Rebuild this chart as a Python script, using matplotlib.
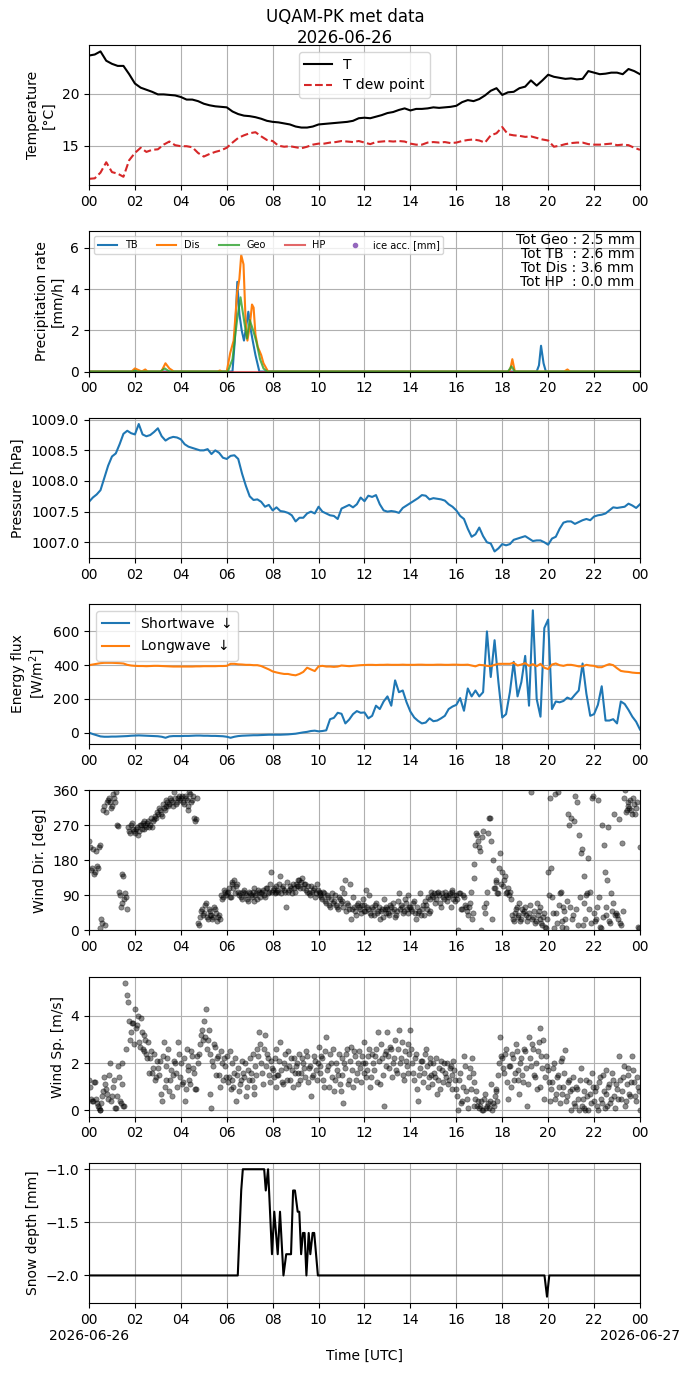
import matplotlib
matplotlib.use('Agg')
import matplotlib.pyplot as plt
import matplotlib.dates as mdates
import pandas as pd

from matplotlib.ticker import FuncFormatter


DAY = pd.Timestamp('2026-06-26')

# temperature, every 15 min
temp = [
    23.7, 23.8, 24.1, 23.2, 22.9, 22.7, 22.7, 21.9, 21.0, 20.6, 20.4, 20.2,
    19.95, 19.95, 19.9, 19.85, 19.7, 19.45, 19.45, 19.3, 19.05, 18.9, 18.8, 18.75,
    18.7, 18.3, 18.05, 17.9, 17.85, 17.75, 17.6, 17.4, 17.3, 17.25, 17.15, 17.05,
    16.85, 16.75, 16.75, 16.85, 17.05, 17.1, 17.15, 17.2, 17.25, 17.3, 17.4, 17.65,
    17.7, 17.65, 17.8, 17.95, 18.15, 18.25, 18.45, 18.6, 18.4, 18.55, 18.55, 18.6,
    18.7, 18.65, 18.7, 18.75, 18.85, 19.2, 19.4, 19.3, 19.5, 19.85, 20.3, 20.55,
    19.9, 20.15, 20.2, 20.55, 20.7, 21.3, 20.8, 21.3, 21.85, 21.65, 21.55, 21.45,
    21.5, 21.4, 21.45, 22.2, 22.05, 21.9, 21.95, 22.05, 22.05, 21.9, 22.4, 22.2,
    21.9,
]
dew = [
    11.8, 11.85, 12.4, 13.4, 12.45, 12.3, 12.0, 13.6, 14.3, 14.8, 14.4, 14.6,
    14.65, 15.1, 15.4, 15.05, 14.95, 14.95, 14.85, 14.3, 13.95, 14.2, 14.4, 14.55,
    14.8, 15.3, 15.75, 16.0, 16.2, 16.3, 15.9, 15.55, 15.45, 15.0, 14.9, 14.95,
    14.85, 14.75, 14.9, 15.1, 15.2, 15.2, 15.3, 15.35, 15.45, 15.4, 15.35, 15.45,
    15.3, 15.15, 15.35, 15.4, 15.45, 15.4, 15.45, 15.4, 15.2, 15.1, 15.1, 15.3,
    15.35, 15.3, 15.35, 15.25, 15.3, 15.45, 15.55, 15.6, 15.5, 15.3, 16.0, 16.2,
    16.8, 16.1, 16.0, 15.95, 15.85, 15.9, 15.75, 15.6, 15.5, 14.9, 15.0, 15.15,
    15.25, 15.3, 15.3, 15.15, 15.1, 15.1, 15.15, 15.2, 15.05, 15.1, 15.05, 14.8,
    14.6,
]

# precipitation rate, break points (hours, mm/h)
tb_hours = [0, 6.25, 6.35, 6.46, 6.55, 6.65, 6.75, 6.85, 6.94, 7.05, 7.13, 7.25, 7.42,
            19.5, 19.6, 19.69, 19.8, 19.9, 24]
tb_rate = [0, 0, 1.5, 4.35, 2.8, 2.0, 1.5, 2.2, 2.9, 2.0, 1.5, 0.8, 0,
           0, 0.3, 1.25, 0.4, 0, 0]
dis_hours = [0, 1.85, 2.0, 2.1, 2.3, 2.45, 2.55, 2.7, 3.15, 3.33, 3.5, 3.7, 5.6, 5.7, 5.8,
             6.0, 6.15, 6.3, 6.45, 6.55, 6.63, 6.73, 6.82, 6.9, 7.0, 7.1, 7.17, 7.25,
             7.35, 7.5, 7.6, 7.8, 18.25, 18.35, 18.44, 18.55, 20.7, 20.84, 20.95, 24]
dis_rate = [0, 0, 0.15, 0.1, 0, 0.1, 0, 0, 0, 0.4, 0.15, 0, 0, 0.05, 0,
            0, 0.9, 1.5, 3.8, 4.5, 5.65, 5.2, 2.5, 1.5, 2.2, 3.25, 3.1, 1.8,
            1.2, 0.8, 0.4, 0, 0, 0.1, 0.6, 0, 0, 0.1, 0, 0]
geo_hours = [0, 1.9, 2.0, 2.1, 3.1, 3.3, 3.5, 6.05, 6.25, 6.45, 6.6, 6.75, 6.88, 7.0,
             7.15, 7.3, 7.45, 7.6, 7.75, 18.25, 18.4, 18.55, 24]
geo_rate = [0, 0, 0.05, 0, 0, 0.15, 0, 0, 0.6, 2.5, 3.6, 2.5, 1.6, 2.5,
            2.0, 1.4, 0.6, 0.15, 0, 0, 0.25, 0, 0]
hp_hours = [0, 24]
hp_rate = [0, 0]
totals = {'Geo': 2.5, 'TB': 2.6, 'Dis': 3.6, 'HP': 0.0}

# pressure, every 10 min
pres = [
    1007.66, 1007.73, 1007.78, 1007.85, 1008.05, 1008.25, 1008.40, 1008.45, 1008.60, 1008.77, 1008.82, 1008.78,
    1008.76, 1008.93, 1008.76, 1008.73, 1008.75, 1008.80, 1008.86, 1008.73, 1008.66, 1008.70, 1008.72, 1008.71,
    1008.68, 1008.60, 1008.56, 1008.54, 1008.52, 1008.50, 1008.50, 1008.52, 1008.44, 1008.50, 1008.46, 1008.38,
    1008.36, 1008.41, 1008.42, 1008.36, 1008.12, 1007.92, 1007.75, 1007.69, 1007.70, 1007.66, 1007.58, 1007.61,
    1007.52, 1007.57, 1007.51, 1007.50, 1007.48, 1007.44, 1007.34, 1007.40, 1007.40, 1007.47, 1007.50, 1007.47,
    1007.58, 1007.50, 1007.47, 1007.44, 1007.43, 1007.38, 1007.55, 1007.58, 1007.61, 1007.57, 1007.62, 1007.73,
    1007.67, 1007.76, 1007.74, 1007.77, 1007.62, 1007.52, 1007.50, 1007.51, 1007.50, 1007.48, 1007.56, 1007.60,
    1007.64, 1007.68, 1007.72, 1007.77, 1007.76, 1007.70, 1007.72, 1007.71, 1007.70, 1007.68, 1007.62, 1007.58,
    1007.52, 1007.43, 1007.38, 1007.22, 1007.09, 1007.13, 1007.24, 1007.10, 1007.00, 1006.98, 1006.85, 1006.90,
    1006.97, 1006.95, 1006.97, 1007.04, 1007.06, 1007.08, 1007.10, 1007.06, 1007.02, 1007.03, 1007.03, 1007.00,
    1006.96, 1007.06, 1007.09, 1007.22, 1007.32, 1007.34, 1007.34, 1007.30, 1007.33, 1007.36, 1007.38, 1007.36,
    1007.42, 1007.44, 1007.45, 1007.47, 1007.52, 1007.57, 1007.56, 1007.57, 1007.58, 1007.63, 1007.60, 1007.56,
    1007.62,
]

# radiation, every 10 min
shortwave = [
    0, -8, -15, -22, -24, -24, -23, -23, -22, -21, -20, -18,
    -17, -16, -17, -18, -19, -20, -21, -24, -30, -22, -20, -20,
    -20, -19, -19, -18, -17, -17, -18, -18, -19, -19, -20, -21,
    -24, -30, -24, -20, -18, -17, -16, -15, -15, -14, -13, -12,
    -12, -12, -12, -11, -10, -8, -6, -2, 2, 5, 10, 12,
    8, 10, 14, 80, 88, 118, 112, 55, 78, 110, 128, 118,
    120, 85, 100, 160, 140, 185, 215, 160, 310, 240, 250, 180,
    125, 90, 70, 55, 60, 85, 68, 72, 85, 100, 140, 155,
    165, 205, 130, 262, 215, 250, 215, 240, 600, 330, 548, 300,
    90, 110, 240, 420, 215, 300, 455, 160, 725, 200, 95, 620,
    670, 140, 185, 180, 188, 208, 198, 225, 250, 410, 230, 100,
    110, 165, 275, 72, 72, 80, 55, 185, 170, 135, 95, 65,
    19,
]
longwave = [
    400, 404, 408, 412, 414, 414, 414, 413, 412, 410, 402, 398,
    396, 395, 395, 394, 395, 396, 396, 395, 394, 393, 392, 392,
    392, 392, 392, 392, 393, 393, 394, 394, 394, 394, 395, 395,
    396, 408, 408, 405, 404, 402, 402, 400, 400, 395, 385, 375,
    363, 357, 352, 348, 348, 343, 340, 348, 360, 385, 375, 365,
    393, 396, 392, 392, 390, 392, 398, 396, 394, 396, 398, 400,
    401, 402, 402, 401, 402, 402, 403, 402, 402, 402, 403, 402,
    402, 402, 403, 403, 402, 402, 402, 403, 403, 402, 402, 403,
    403, 402, 402, 403, 398, 393, 402, 400, 396, 394, 402, 408,
    408, 408, 408, 414, 398, 404, 412, 396, 406, 394, 408, 385,
    377, 404, 410, 400, 396, 402, 402, 398, 393, 393, 402, 398,
    396, 388, 388, 398, 406, 400, 382, 366, 362, 360, 356, 354,
    353,
]

# wind, every 5 min on the hour marks ...
wind_dir = [
    230, 155, 210, 150, 165, 215, 5, 20, 320, 305, 335, 330,
    320, 340, 355, 268, 90, 70, 140, 95, 55, 255, 270, 260,
    250, 265, 255, 270, 275, 260, 265, 280, 270, 265, 285, 290,
    300, 310, 295, 315, 320, 330, 325, 335, 320, 340, 330, 345,
    340, 330, 345, 335, 320, 350, 335, 290, 285, 20, 35, 55,
    45, 70, 30, 50, 40, 35, 55, 25, 40, 90, 85, 100,
    95, 110, 85, 120, 130, 115, 100, 95, 80, 105, 90, 75,
    95, 85, 110, 90, 80, 100, 95, 105, 85, 110, 100, 150,
    105, 95, 115, 100, 140, 110, 105, 60, 100, 115, 95, 110,
    120, 115, 130, 125, 110, 120, 100, 95, 115, 105, 85, 120,
    100, 90, 80, 95, 70, 85, 60, 95, 75, 65, 55, 80,
    110, 60, 130, 70, 55, 30, 85, 50, 65, 60, 45, 80,
    65, 105, 55, 45, 60, 40, 70, 50, 30, 55, 80, 45,
    55, 40, 60, 70, 35, 50, 95, 65, 45, 80, 55, 90,
    60, 50, 75, 30, 45, 95, 55, 40, 65, 85, 50, 100,
    85, 70, 95, 90, 60, 85, 100, 75, 90, 60, 105, 90,
    90, 0, 95, 55, 85, 60, 40, 70, 30, 135, 220, 245,
    215, 0, 255, 45, 100, 290, 230, 180, 110, 125, 95, 200,
    150, 130, 95, 110, 100, 40, 25, 55, 35, 70, 30, 45,
    60, 25, 45, 355, 35, 20, 70, 50, 30, 15, 45, 5,
    150, 340, 85, 5, 45, 355, 95, 10, 60, 30, 75, 270,
    290, 40, 345, 330, 245, 200, 15, 140, 90, 185, 100, 340,
    45, 30, 335, 10, 270, 220, 60, 130, 25, 95, 70, 40,
    40, 285, 15, 50, 360, 310, 320, 335, 300, 325, 315, 10,
    215,
]
wind_speed = [
    1.3, 0.5, 0.4, 1.2, 0.3, 0.1, 0.0, 0.6, 1.4, 0.9, 0.5, 2.0,
    0.6, 1.3, 0.1, 1.9, 0.4, 1.1, 0.2, 5.4, 4.9, 3.8, 3.3, 3.7,
    4.3, 3.6, 2.9, 3.9, 2.6, 3.2, 2.4, 2.9, 2.2, 1.6, 2.4, 1.4,
    1.8, 2.1, 0.4, 2.9, 1.3, 2.2, 0.8, 1.7, 1.5, 2.0, 1.0, 2.4,
    2.0, 1.2, 0.4, 2.6, 1.9, 1.1, 2.3, 1.6, 0.9, 2.0, 2.8, 3.4,
    3.8, 4.3, 3.0, 2.4, 0.1, 1.9, 2.7, 2.2, 1.5, 2.5, 1.3, 1.9,
    2.3, 1.4, 0.9, 2.0, 1.6, 0.4, 1.8, 1.1, 2.1, 1.4, 0.6, 1.7,
    2.2, 1.3, 0.7, 1.9, 2.6, 3.3, 2.0, 1.1, 3.2, 2.4, 1.5, 2.1,
    1.7, 2.2, 1.0, 1.5, 2.9, 1.2, 2.0, 1.8, 2.5, 1.3, 1.7, 2.2,
    1.9, 1.1, 2.4, 1.6, 2.0, 1.4, 2.3, 1.8, 0.6, 1.5, 2.1, 1.3,
    2.7, 1.6, 2.2, 1.0, 3.1, 1.9, 2.4, 1.4, 0.8, 2.0, 1.5, 1.1,
    2.2, 0.3, 1.8, 2.6, 1.3, 2.7, 1.0, 2.3, 1.6, 2.5, 1.2, 2.0,
    2.9, 1.4, 2.3, 1.0, 2.4, 1.7, 2.6, 3.3, 1.1, 2.2, 0.2, 2.5,
    3.3, 1.8, 2.6, 2.0, 3.0, 1.6, 3.4, 2.2, 1.5, 2.5, 1.9, 2.8,
    3.4, 2.0, 1.3, 2.4, 0.4, 1.8, 2.1, 1.6, 2.6, 1.0, 2.2, 1.5,
    2.0, 1.4, 0.7, 1.8, 2.1, 1.2, 1.6, 2.0, 1.3, 1.9, 0.9, 1.7,
    0.9, 0.0, 1.6, 0.4, 2.3, 0.8, 0.1, 1.8, 2.2, 1.2, 0.5, 0.2,
    0.1, 0.4, 0.0, 0.7, 0.2, 0.1, 1.1, 0.3, 0.6, 0.8, 1.5, 3.1,
    2.2, 1.6, 2.6, 0.5, 1.9, 2.4, 1.3, 2.8, 1.7, 0.7, 2.2, 1.2,
    2.5, 0.2, 3.1, 1.9, 2.6, 1.4, 0.9, 2.9, 3.5, 1.8, 0.5, 2.3,
    1.7, 0.4, 1.2, 2.0, 0.7, 1.5, 0.3, 2.2, 1.0, 2.55, 0.6, 1.3,
    0.0, 1.4, 0.2, 0.9, 0.0, 1.8, 0.5, 0.1, 1.3, 0.0, 0.7, 1.6,
    0.4, 1.0, 0.0, 1.4, 0.3, 0.8, 1.7, 0.2, 1.1, 0.5, 1.3, 0.1,
    0.9, 2.3, 0.5, 1.4, 0.2, 1.1, 1.8, 0.6, 2.3, 1.2, 0.4, 1.0,
    0.0,
]
# ... and the samples in between (2.5 min later)
wind_dir_mid = [
    215, 160, 145, 205, 160, 220, 30, 310, 15, 330, 340, 315,
    350, 330, 270, 100, 60, 145, 80, 85, 265, 250, 275, 255,
    260, 245, 270, 260, 280, 270, 275, 265, 290, 280, 295, 305,
    315, 300, 325, 310, 335, 320, 340, 330, 355, 325, 340, 335,
    345, 325, 340, 310, 355, 330, 345, 280, 340, 15, 50, 40,
    65, 35, 55, 40, 30, 60, 45, 35, 30, 80, 105, 90,
    100, 85, 125, 110, 95, 120, 90, 85, 100, 95, 80, 100,
    90, 100, 75, 95, 105, 85, 100, 90, 110, 95, 120, 100,
    110, 100, 105, 120, 95, 115, 100, 125, 105, 110, 120, 100,
    115, 130, 110, 135, 120, 105, 115, 90, 100, 110, 95, 105,
    95, 85, 100, 75, 90, 65, 80, 70, 90, 60, 85, 70,
    75, 95, 50, 65, 120, 55, 60, 40, 70, 55, 65, 50,
    50, 60, 90, 40, 55, 65, 45, 60, 50, 35, 55, 60,
    45, 65, 50, 55, 40, 75, 55, 60, 50, 70, 45, 60,
    55, 70, 45, 60, 50, 40, 65, 75, 55, 45, 80, 90,
    95, 80, 100, 70, 95, 80, 90, 85, 95, 100, 80, 75,
    80, 95, 55, 90, 65, 50, 60, 100, 45, 170, 250, 230,
    205, 240, 60, 70, 250, 290, 30, 110, 130, 95, 160, 120,
    115, 140, 100, 90, 80, 30, 45, 60, 40, 25, 55, 50,
    40, 35, 65, 30, 50, 25, 40, 60, 20, 35, 10, 30,
    90, 160, 45, 350, 20, 65, 100, 25, 50, 5, 300, 60,
    30, 280, 55, 15, 85, 210, 70, 30, 95, 55, 20, 345,
    25, 60, 85, 5, 35, 150, 40, 265, 20, 50, 300, 45,
    30, 20, 225, 340, 305, 330, 315, 310, 340, 300, 330, 5,
]
wind_speed_mid = [
    1.0, 0.4, 1.2, 0.5, 0.2, 0.0, 0.3, 0.8, 1.1, 0.7, 1.5, 0.4,
    1.0, 0.1, 0.6, 1.4, 0.3, 2.0, 0.2, 2.6, 4.6, 3.0, 3.7, 2.8,
    3.5, 4.0, 2.7, 3.3, 2.5, 3.0, 2.2, 1.6, 2.5, 1.8, 1.3, 2.1,
    1.5, 0.7, 2.3, 1.0, 1.9, 2.6, 1.3, 0.6, 2.1, 1.6, 2.9, 1.4,
    1.1, 2.2, 0.9, 1.7, 1.3, 2.5, 1.8, 0.9, 2.3, 2.4, 3.2, 3.0,
    3.1, 2.6, 3.4, 0.7, 2.1, 2.8, 1.5, 2.3, 1.0, 2.0, 2.2, 1.4,
    1.2, 2.5, 1.3, 1.0, 2.2, 1.5, 0.8, 1.3, 1.6, 2.0, 1.0, 1.3,
    1.6, 2.4, 1.0, 1.5, 2.3, 2.8, 1.6, 2.6, 1.9, 2.2, 1.2, 1.8,
    1.4, 2.6, 1.5, 2.1, 1.7, 1.1, 2.4, 1.3, 1.9, 2.2, 1.0, 1.6,
    2.0, 1.6, 1.3, 2.2, 1.8, 2.5, 1.2, 1.9, 1.4, 2.3, 1.7, 2.0,
    1.9, 2.3, 1.3, 2.5, 1.7, 1.0, 2.0, 2.6, 1.3, 1.7, 2.4, 0.8,
    1.5, 2.0, 2.4, 1.1, 2.1, 1.7, 2.5, 1.3, 2.0, 1.8, 2.3, 1.6,
    2.0, 1.7, 2.6, 1.4, 2.0, 2.3, 1.2, 2.1, 2.8, 1.5, 2.4, 1.9,
    2.3, 2.7, 1.4, 2.2, 1.7, 2.6, 2.0, 2.9, 1.3, 2.1, 1.6, 2.4,
    2.6, 1.6, 2.2, 0.9, 1.5, 2.1, 1.2, 2.4, 1.9, 1.4, 2.0, 1.1,
    1.6, 2.2, 1.3, 0.9, 1.7, 2.0, 1.4, 1.1, 1.8, 1.5, 2.1, 1.3,
    0.6, 1.3, 0.3, 1.0, 1.9, 0.5, 1.4, 0.9, 1.6, 0.2, 0.8, 0.4,
    0.2, 0.0, 0.5, 0.1, 0.3, 0.4, 0.0, 0.2, 0.9, 0.4, 2.0, 2.3,
    1.8, 2.4, 1.2, 1.9, 1.0, 2.2, 1.6, 2.5, 1.3, 2.0, 1.5, 2.6,
    1.8, 1.1, 2.2, 2.8, 1.5, 2.0, 2.5, 1.0, 2.3, 3.0, 1.4, 1.9,
    1.2, 0.9, 1.8, 0.5, 1.4, 1.0, 2.1, 0.7, 1.6, 0.4, 1.2, 0.8,
    0.9, 0.3, 1.0, 0.5, 1.3, 0.2, 0.8, 0.0, 0.6, 1.2, 0.3, 1.0,
    0.8, 0.2, 1.2, 0.5, 1.5, 0.1, 0.7, 1.0, 0.3, 1.6, 0.6, 1.1,
    0.5, 1.3, 0.8, 1.9, 0.4, 1.5, 0.7, 1.2, 1.7, 0.6, 1.4, 0.8,
]

# snow depth, break points (hours, mm)
snow_hours = [0, 6.48, 6.63, 6.7, 7.63, 7.7, 7.8, 7.97, 8.07, 8.22, 8.32, 8.47, 8.59,
              8.8, 8.89, 8.97, 9.09, 9.16, 9.24, 9.32, 9.39, 9.47, 9.57, 9.64, 9.74,
              9.81, 9.97, 19.84, 19.95, 20.05, 24]
snow_depth = [-2.0, -2.0, -1.2, -1.0, -1.0, -1.2, -1.0, -1.8, -1.4, -1.8, -1.4, -2.0, -1.8,
              -1.8, -1.2, -1.2, -1.4, -1.4, -1.8, -1.6, -1.6, -2.0, -1.6, -1.8, -1.6,
              -1.6, -2.0, -2.0, -2.2, -2.0, -2.0]


def times(n, step, offset='0min'):
    return pd.date_range(DAY + pd.Timedelta(offset), periods=n, freq=step)


def hours_to_times(hours):
    return DAY + pd.to_timedelta(hours, unit='h')


def bottom_label(x, pos):
    d = mdates.num2date(x)
    if d.hour == 0:
        return d.strftime('%H\n%Y-%m-%d')
    return d.strftime('%H')


def scatter(ax, t, values):
    ax.plot(t, values, 'o', color='k', alpha=0.45, markersize=3.8, mew=0.5)


def main():
    fig, axes = plt.subplots(7, 1, figsize=(6.9, 13.77))
    fig.subplots_adjust(left=0.129, right=0.9275, top=0.9673, bottom=0.0537, hspace=0.329)
    fig.suptitle('UQAM-PK met data\n2026-06-26', y=0.994, va='top', fontsize=12)

    ax = axes[0]
    t15 = times(len(temp), '15min')
    ax.plot(t15, temp, color='k', lw=1.5, label='T')
    ax.plot(t15, dew, color='tab:red', ls='--', lw=1.5, label='T dew point')
    ax.set_ylabel('Temperature\n[°C]')
    ax.legend(loc='upper center')

    ax = axes[1]
    h_tb, = ax.plot(hours_to_times(tb_hours), tb_rate, color='tab:blue', lw=1.5, label='TB')
    h_dis, = ax.plot(hours_to_times(dis_hours), dis_rate, color='tab:orange', lw=1.5, label='Dis')
    h_hp, = ax.plot(hours_to_times(hp_hours), hp_rate, color='tab:red', alpha=0.7, lw=1.5, label='HP')
    h_geo, = ax.plot(hours_to_times(geo_hours), geo_rate, color='tab:green', alpha=0.8, lw=1.5, label='Geo')
    h_ice, = ax.plot([], [], 'o', color='tab:purple', markersize=3, label='ice acc. [mm]')
    ax.legend(handles=[h_tb, h_dis, h_geo, h_hp, h_ice], loc='upper left', ncol=5, fontsize=7)
    ax.set_ylim(0, 6.8)
    ax.set_ylabel('Precipitation rate\n[mm/h]')
    text = (f"Tot Geo : {totals['Geo']:.1f} mm\n"
            f"Tot TB  : {totals['TB']:.1f} mm\n"
            f"Tot Dis : {totals['Dis']:.1f} mm\n"
            f"Tot HP  : {totals['HP']:.1f} mm")
    ax.text(0.99, 0.985, text, transform=ax.transAxes, ha='right', va='top',
            multialignment='right', linespacing=1.0)

    ax = axes[2]
    ax.plot(times(len(pres), '10min'), pres, color='tab:blue', lw=1.5)
    ax.set_ylabel('Pressure [hPa]')

    ax = axes[3]
    t10 = times(len(shortwave), '10min')
    ax.plot(t10, shortwave, color='tab:blue', lw=1.5, label='Shortwave $\\downarrow$')
    ax.plot(t10, longwave, color='tab:orange', lw=1.5, label='Longwave $\\downarrow$')
    ax.set_ylabel('Energy flux\n[W/m$^2$]')
    ax.legend(loc='upper left')

    ax = axes[4]
    scatter(ax, times(len(wind_dir), '5min'), wind_dir)
    scatter(ax, times(len(wind_dir_mid), '5min', '150s'), wind_dir_mid)
    ax.set_ylim(0, 360)
    ax.set_yticks([0, 90, 180, 270, 360])
    ax.set_ylabel('Wind Dir. [deg]')

    ax = axes[5]
    scatter(ax, times(len(wind_speed), '5min'), wind_speed)
    scatter(ax, times(len(wind_speed_mid), '5min', '150s'), wind_speed_mid)
    ax.set_ylabel('Wind Sp. [m/s]')

    ax = axes[6]
    ax.plot(hours_to_times(snow_hours), snow_depth, color='k', lw=1.5)
    ax.set_ylabel('Snow depth [mm]')
    ax.set_xlabel('Time [UTC]')

    for i, ax in enumerate(axes):
        ax.set_xlim(DAY, DAY + pd.Timedelta(days=1))
        ax.xaxis.set_major_locator(mdates.HourLocator(byhour=range(0, 24, 2)))
        if i == len(axes) - 1:
            ax.xaxis.set_major_formatter(FuncFormatter(bottom_label))
        else:
            ax.xaxis.set_major_formatter(mdates.DateFormatter('%H'))
        ax.grid(True)

    fig.savefig('out.png', dpi=100)


if __name__ == '__main__':
    main()
